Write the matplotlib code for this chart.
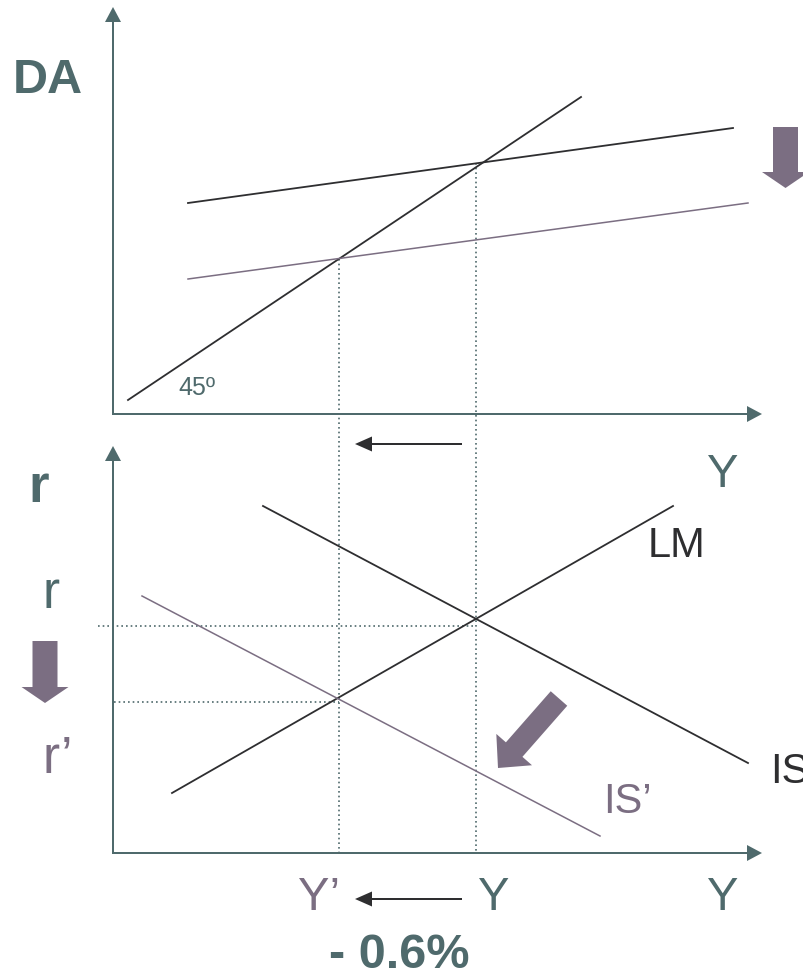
import matplotlib
matplotlib.use("Agg")
import matplotlib.pyplot as plt

plt.rcParams["font.family"] = ["Liberation Sans", "DejaVu Sans"]

TEAL = "#4f6a6c"
PURPLE = "#7b6e82"
DARK = "#2e2e30"

# diagram drawn in pixel space of the slide (x right, y down)
# upper panel: aggregate demand (DA) vs income Y
line45_x = [128, 581]
line45_y = [400, 97]
da_x = [188, 733]
da_y = [203, 128]
da_new_x = [188, 748]
da_new_y = [279, 203]

# lower panel: IS-LM
is_x = [263, 748]
is_y = [506, 763]
is_new_x = [142, 600]
is_new_y = [596, 836]
lm_x = [172, 673]
lm_y = [793, 506]

# equilibrium guides
y_eq = 476        # Y
y_eq_new = 339    # Y'
r_eq = 626        # r
r_eq_new = 702    # r'
da_eq_top = 163
da_new_eq_top = 259

fig = plt.figure(figsize=(8.04, 9.75), dpi=100)
ax = fig.add_axes([0, 0, 1, 1])
ax.set_xlim(0, 804)
ax.set_ylim(975, 0)
ax.axis("off")

# axes with arrowheads
for y0, top in [(414, 7), (853, 446)]:
    ax.arrow(113, y0 + 1, 0, top - y0 - 1, width=2, head_width=16, head_length=15,
             length_includes_head=True, color=TEAL, lw=0)
    ax.arrow(112, y0, 762 - 112, 0, width=2, head_width=16, head_length=15,
             length_includes_head=True, color=TEAL, lw=0)

dot = dict(color=TEAL, lw=1.2, linestyle=(0, (1, 1.8)))
ax.plot([y_eq, y_eq], [da_eq_top, 853], **dot)
ax.plot([y_eq_new, y_eq_new], [da_new_eq_top, 853], **dot)
ax.plot([98, y_eq], [r_eq, r_eq], **dot)
ax.plot([114, y_eq_new], [r_eq_new, r_eq_new], **dot)

ax.plot(line45_x, line45_y, color=DARK, lw=1.3)
ax.plot(da_x, da_y, color=DARK, lw=1.3)
ax.plot(da_new_x, da_new_y, color=PURPLE, lw=1.1)
ax.plot(is_x, is_y, color=DARK, lw=1.3)
ax.plot(lm_x, lm_y, color=DARK, lw=1.3)
ax.plot(is_new_x, is_new_y, color=PURPLE, lw=1.1)

# shift arrows
ax.arrow(785.5, 127, 0, 61, width=25, head_width=47, head_length=16,
         length_includes_head=True, color=PURPLE, lw=0)
ax.arrow(45, 641, 0, 62, width=25, head_width=47, head_length=16,
         length_includes_head=True, color=PURPLE, lw=0)
ax.arrow(559, 698.5, -61, 69.5, width=22, head_width=47.5, head_length=24.5,
         length_includes_head=True, color=PURPLE, lw=0)
for ya in [444, 899]:
    ax.arrow(462, ya, 355 - 462, 0, width=2, head_width=15, head_length=17,
             length_includes_head=True, color=DARK, lw=0)

# labels
txt = dict(ha="left", va="baseline")
ax.text(13, 93, "DA", fontsize=35, fontweight="bold", color=TEAL, **txt)
ax.text(178, 395, "45º", fontsize=18, color=TEAL, **txt)
ax.text(707, 487, "Y", fontsize=34, color=TEAL, **txt)
ax.text(28, 502, "r", fontsize=38, fontweight="bold", color=TEAL, **txt)
ax.text(43, 608, "r", fontsize=37, color=TEAL, **txt)
ax.text(43, 773, "r\u2019", fontsize=37, color=PURPLE, **txt)
ax.text(648, 557, "LM", fontsize=30, color=DARK, **txt)
ax.text(770, 783, "IS", fontsize=30, color=DARK, **txt)
ax.text(603, 813, "IS\u2019", fontsize=30, color=PURPLE, **txt)
ax.text(298, 910, "Y\u2019", fontsize=34, color=PURPLE, **txt)
ax.text(478, 910, "Y", fontsize=34, color=TEAL, **txt)
ax.text(707, 910, "Y", fontsize=34, color=TEAL, **txt)
ax.text(329, 968, "- 0.6%", fontsize=35, fontweight="bold", color=TEAL, **txt)

fig.savefig("out.png", dpi=100)
